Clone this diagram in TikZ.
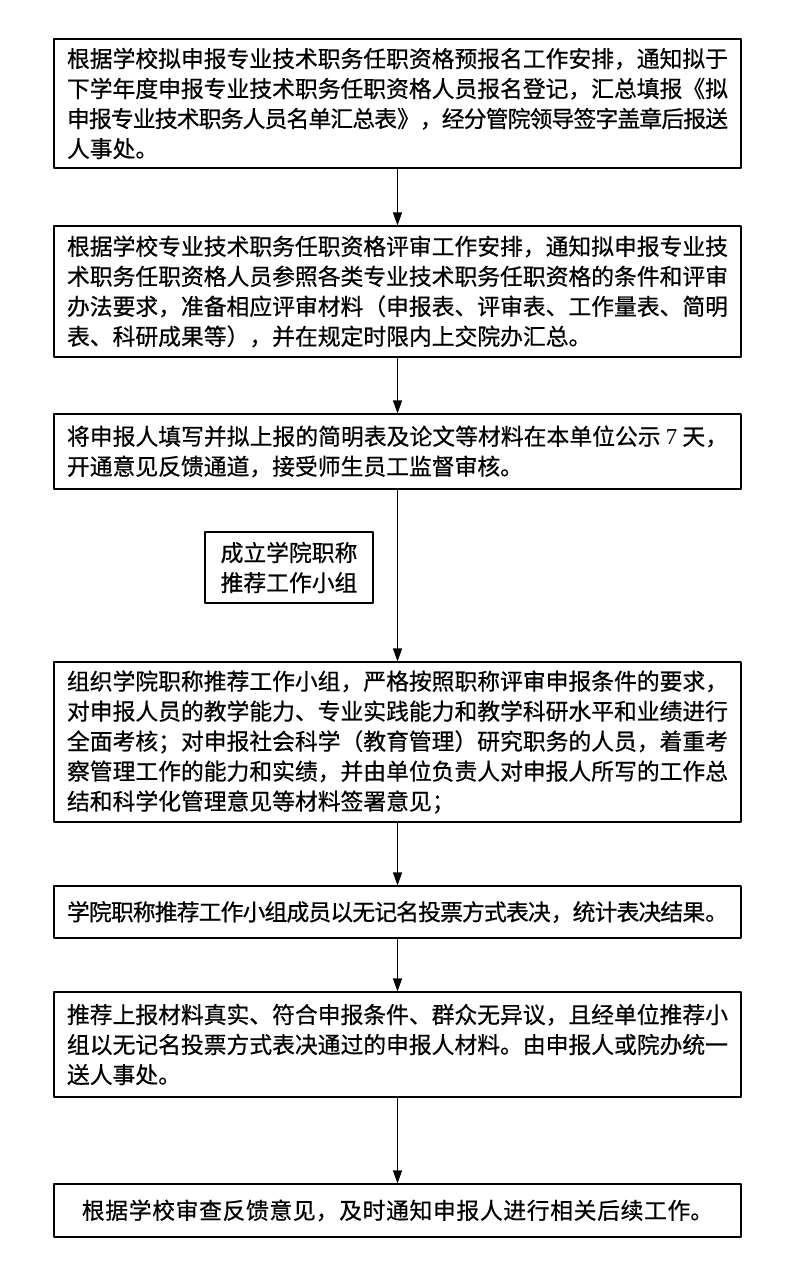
\documentclass[tikz,border=0pt]{standalone}
\usepackage{fontspec}
\setmainfont{Noto Sans CJK SC}[FakeBold=0.6]
\newfontfamily\numfont{Liberation Serif}
\usetikzlibrary{arrows.meta}
\XeTeXlinebreaklocale "zh"
\XeTeXlinebreakskip=0pt plus 2pt minus 1.2pt
\begin{document}
\begin{tikzpicture}[x=1pt,y=-1pt,line join=round,>={Triangle[width=9pt,length=13pt]},
	stepbox/.style={draw,line width=1.1pt,inner xsep=13pt,inner ysep=0pt,text width=661pt,align=justify,font=\fontsize{22.8}{30}\selectfont},
	groupbox/.style={draw,line width=1.1pt,inner sep=0pt,minimum width=168pt,minimum height=71pt,align=center,font=\fontsize{22.8}{30}\selectfont}]
	\useasboundingbox (0,0) rectangle (800,1275);
	\node[stepbox,minimum height=129pt] (apply) at (397.5,103.5)
	{根据学校拟申报专业技术职务任职资格预报名工作安排，通知拟于\linebreak
	下学年度申报专业技术职务任职资格人员报名登记，汇总填报《拟\linebreak
	申报专业技术职务人员名单汇总表》，经分管院领导签字盖章后报送\linebreak
	人事处。};
	\node[stepbox,minimum height=131pt] (prepare) at (397.5,291.5)
	{根据学校专业技术职务任职资格评审工作安排，通知拟申报专业技\linebreak
	术职务任职资格人员参照各类专业技术职务任职资格的条件和评审\linebreak
	办法要求，准备相应评审材料（申报表、评审表、工作量表、简明\linebreak
	表、科研成果等），并在规定时限内上交院办汇总。};
	\node[stepbox,minimum height=75pt] (publish) at (397.5,451.5)
	{将申报人填写并拟上报的简明表及论文等材料在本单位公示 {\numfont 7} 天，\linebreak
	开通意见反馈通道，接受师生员工监督审核。};
	\node[groupbox] (group) at (289,567.5) {成立学院职称\\推荐工作小组};
	\node[stepbox,minimum height=160pt] (review) at (397.5,742)
	{组织学院职称推荐工作小组，严格按照职称评审申报条件的要求，\linebreak
	对申报人员的教学能力、专业实践能力和教学科研水平和业绩进行\linebreak
	全面考核；对申报社会科学（教育管理）研究职务的人员，着重考\linebreak
	察管理工作的能力和实绩，并由单位负责人对申报人所写的工作总\linebreak
	结和科学化管理意见等材料签署意见；};
	\node[stepbox,align=center,minimum height=52pt] (vote) at (397.5,912)
	{学院职称推荐工作小组成员以无记名投票方式表决，统计表决结果。};
	\node[stepbox,minimum height=105pt] (submit) at (397.5,1044.5)
	{推荐上报材料真实、符合申报条件、群众无异议，且经单位推荐小\linebreak
	组以无记名投票方式表决通过的申报人材料。由申报人或院办统一\linebreak
	送人事处。};
	\node[stepbox,align=center,minimum height=53pt] (notify) at (397.5,1210.5)
	{根据学校审查反馈意见，及时通知申报人进行相关后续工作。};
	\draw[->,line width=1.1pt]
	(apply)--(prepare);
	\draw[->,line width=1.1pt]
	(prepare)--(publish);
	\draw[->,line width=1.1pt]
	(publish)--(review);
	\draw[->,line width=1.1pt]
	(review)--(vote);
	\draw[->,line width=1.1pt]
	(vote)--(submit);
	\draw[->,line width=1.1pt]
	(submit)--(notify);
\end{tikzpicture}
\end{document}
